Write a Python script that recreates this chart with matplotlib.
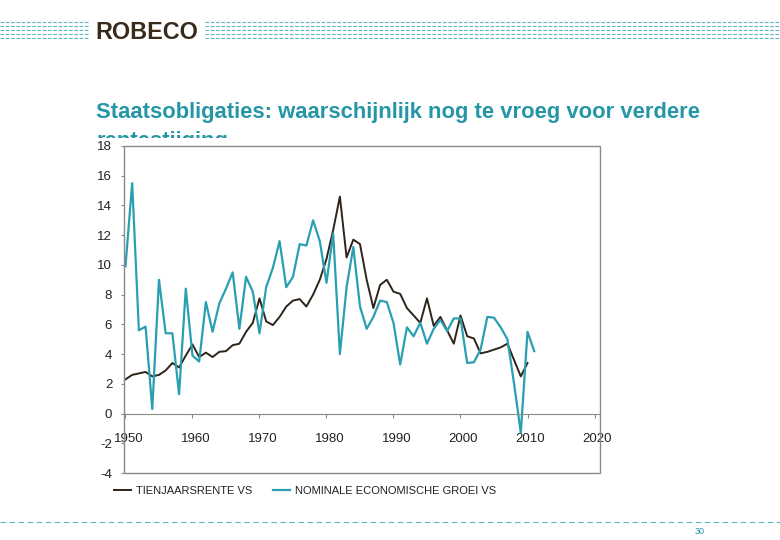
import matplotlib
matplotlib.use('Agg')
import matplotlib.pyplot as plt
import matplotlib.transforms as mtransforms
from matplotlib.patches import Rectangle

plt.rcParams['lines.scale_dashes'] = False
plt.rcParams['axes.unicode_minus'] = False
sans = ['Liberation Sans', 'DejaVu Sans']

# Data (US, % per jaar)
years_rate = list(range(1950, 2011))
rate_10y = [2.3, 2.6, 2.7, 2.8, 2.5, 2.6, 2.9, 3.4, 3.1, 3.9,
            4.65, 3.8, 4.1, 3.8, 4.15, 4.2, 4.6, 4.7, 5.5, 6.1,
            7.75, 6.2, 5.95, 6.5, 7.2, 7.6, 7.7, 7.2, 8.0, 9.0,
            10.4, 12.35, 14.6, 10.5, 11.7, 11.4, 9.0, 7.1, 8.65, 9.0,
            8.2, 8.05, 7.1, 6.6, 6.1, 7.75, 5.9, 6.5, 5.6, 4.7,
            6.6, 5.2, 5.05, 4.05, 4.15, 4.3, 4.45, 4.7, 3.6, 2.5,
            3.4]
years_growth = list(range(1950, 2012))
growth_nominal = [9.9, 15.5, 5.6, 5.85, 0.3, 9.0, 5.4, 5.4, 1.3, 8.4,
                  3.9, 3.5, 7.5, 5.5, 7.4, 8.4, 9.5, 5.7, 9.2, 8.2,
                  5.4, 8.5, 9.8, 11.6, 8.5, 9.2, 11.4, 11.3, 13.0, 11.6,
                  8.8, 12.1, 4.0, 8.5, 11.2, 7.2, 5.7, 6.5, 7.6, 7.5,
                  6.1, 3.3, 5.8, 5.2, 6.1, 4.7, 5.7, 6.3, 5.55, 6.4,
                  6.4, 3.4, 3.45, 4.3, 6.5, 6.45, 5.8, 5.0, 2.0, -1.3,
                  5.5, 4.2]
labels = ['TIENJAARSRENTE VS', 'NOMINALE ECONOMISCHE GROEI VS']
x_ticks = list(range(1950, 2021, 10))
y_ticks = list(range(-4, 19, 2))

teal = '#2a9fb2'
dark = '#2e2419'
title_teal = '#2596a6'
dash_teal = '#5cb6c3'

fig = plt.figure(figsize=(7.8, 5.4), dpi=100)

# slide background in pixel coordinates
bg = fig.add_axes([0, 0, 1, 1])
bg.set_xlim(0, 780)
bg.set_ylim(540, 0)
bg.axis('off')

# header dashed bands + logo
for yy in [22, 26, 30, 34, 38]:
    bg.hlines(yy, 0, 88, color=dash_teal, lw=0.8, linestyles=(0, (2.6, 1.2)))
    bg.hlines(yy, 205, 780, color=dash_teal, lw=0.8, linestyles=(0, (2.6, 1.2)))
bg.text(95, 39, 'ROBECO', fontsize=16.8, fontweight='bold', color='#3a2a1b',
        family=sans, va='baseline', ha='left')

# title (second line partly hidden behind the chart)
bg.text(96, 118, 'Staatsobligaties: waarschijnlijk nog te vroeg voor verdere',
        fontsize=15.8, fontweight='bold', color=title_teal, family=sans,
        va='baseline', ha='left', zorder=1)
bg.text(96, 147, 'rentestijging',
        fontsize=15.8, fontweight='bold', color=title_teal, family=sans,
        va='baseline', ha='left', zorder=1)
bg.add_patch(Rectangle((85, 138), 535, 370, facecolor='white', edgecolor='none', zorder=2))

# footer
bg.hlines(522, 0, 780, color=dash_teal, lw=0.8, linestyles=(0, (4, 2.5)))
bg.text(700, 534, '30', fontsize=6.5, color=title_teal, family=sans, ha='center', va='baseline')

# chart
ax = fig.add_axes([124 / 780, 1 - 473 / 540, 476 / 780, 327 / 540])
ax.set_zorder(3)
ax.set_facecolor('white')
ax.plot(years_rate, rate_10y, color=dark, lw=1.4, label=labels[0])
ax.plot(years_growth, growth_nominal, color=teal, lw=1.6, label=labels[1])

ax.set_xlim(1949.78, 2020.82)
ax.set_ylim(-4, 18)
ax.set_xticks(x_ticks)
ax.set_yticks(y_ticks)

for s in ['top', 'left', 'right']:
    ax.spines[s].set_visible(False)
ax.spines['bottom'].set_position(('data', 0))
ax.spines['bottom'].set_color('#8a8a8a')
ax.add_patch(Rectangle((0, 0), 1, 1, transform=ax.transAxes, fill=False,
                       edgecolor='#8a8a8a', lw=1, clip_on=False, zorder=5))

ax.tick_params(axis='x', direction='out', length=3, width=0.8, color='#8a8a8a',
               pad=11, labelsize=9.5, labelcolor='#222222')
ax.tick_params(axis='y', direction='out', length=2.5, width=0.8, color='#8a8a8a',
               pad=6, labelsize=9.5, labelcolor='#222222')
shift = mtransforms.ScaledTranslation(3 / 100, 0, fig.dpi_scale_trans)
for lab in ax.get_xticklabels():
    lab.set_family(sans)
    lab.set_transform(lab.get_transform() + shift)
for lab in ax.get_yticklabels():
    lab.set_family(sans)

leg = fig.legend(loc='center left', bbox_to_anchor=(108 / 780, 1 - 491 / 540), ncol=2,
                 frameon=False, borderpad=0, handlelength=1.6, handletextpad=0.45,
                 columnspacing=1.8, prop={'family': sans, 'size': 8})
for t in leg.get_texts():
    t.set_color('#222222')

fig.savefig('out.png', dpi=100)
